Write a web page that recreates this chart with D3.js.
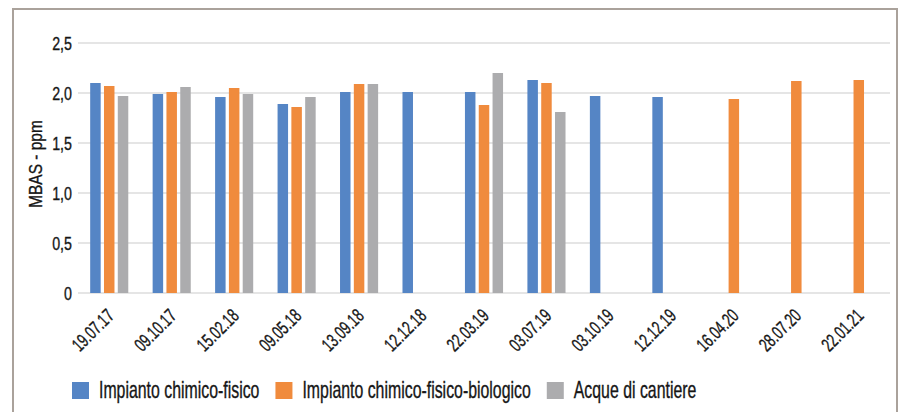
<!DOCTYPE html>
<html>
<head>
<meta charset="utf-8">
<script src="https://cdn.jsdelivr.net/npm/d3@7"></script>
<style>
  html, body { margin: 0; padding: 0; background: #fff; }
  svg { display: block; }
  text { font-family: "Liberation Sans", Arial, sans-serif; fill: #161616; stroke: #161616; stroke-width: 0.35px; }
</style>
</head>
<body>
<svg id="chart" width="900" height="412"></svg>
<script>
// ---- data ----
const categories = ["19.07.17","09.10.17","15.02.18","09.05.18","13.09.18","12.12.18","22.03.19","03.07.19","03.10.19","12.12.19","16.04.20","28.07.20","22.01.21"];
const seriesNames = ["Impianto chimico-fisico","Impianto chimico-fisico-biologico","Acque di cantiere"];
const chimicoFisico =         [2.10, 1.99, 1.96, 1.89, 2.01, 2.01, 2.01, 2.13, 1.97, 1.96, null, null, null];
const chimicoFisicoBiologico = [2.07, 2.01, 2.05, 1.86, 2.09, null, 1.88, 2.10, null, null, 1.94, 2.12, 2.13];
const acqueCantiere =          [1.97, 2.06, 1.99, 1.96, 2.09, null, 2.20, 1.81, null, null, null, null, null];
const yTicks = [0, 0.5, 1.0, 1.5, 2.0, 2.5];
const yTickLabels = ["0", "0,5", "1,0", "1,5", "2,0", "2,5"];
const yTitle = "MBAS - ppm";
const colors = ["#5585c5", "#f08b3d", "#acacae"];

const seriesValues = [chimicoFisico, chimicoFisicoBiologico, acqueCantiere];

(function () {
const svg = d3.select("#chart");

// frame
svg.append("rect")
  .attr("x", 13).attr("y", 9).attr("width", 884).attr("height", 420)
  .attr("fill", "none").attr("stroke", "#aaa29b").attr("stroke-width", 2);

const pLeft = 78, pRight = 890, pTop = 43, pBottom = 293;
const y = d3.scaleLinear().domain([0, 2.5]).range([pBottom, pTop]);
const x0 = d3.scaleBand().domain(categories).range([pLeft, pRight]).paddingInner(0).paddingOuter(0);
const groupW = 38.1;
const off = (x0.bandwidth() - groupW) / 2;
const x1 = d3.scaleBand().domain(seriesNames).range([off, off + groupW]).paddingInner(0.24).paddingOuter(0);

// gridlines
svg.append("g").selectAll("line").data(yTicks).join("line")
  .attr("x1", pLeft).attr("x2", pRight)
  .attr("y1", d => y(d)).attr("y2", d => y(d))
  .attr("stroke", "#dcdcdc").attr("stroke-width", 1.5);

// y tick labels (condensed)
const yl = svg.append("g").selectAll("g").data(yTicks).join("g")
  .attr("transform", d => `translate(72,${y(d)}) scale(0.75,1)`);
yl.append("text")
  .attr("text-anchor", "end").attr("dy", "0.36em")
  .attr("font-size", 19)
  .text((d, i) => yTickLabels[i]);

// y title
svg.append("g").attr("transform", "translate(42,164) rotate(-90) scale(0.86,1)")
  .append("text").attr("text-anchor", "middle").attr("font-size", 18).text(yTitle);

// bars
const barData = [];
categories.forEach((c, ci) => {
  seriesNames.forEach((s, si) => {
    const v = seriesValues[si][ci];
    if (v != null) barData.push({c, s, si, v});
  });
});
svg.append("g").selectAll("rect").data(barData).join("rect")
  .attr("x", d => x0(d.c) + x1(d.s))
  .attr("width", x1.bandwidth())
  .attr("y", d => y(d.v))
  .attr("height", d => y(0) - y(d.v))
  .attr("fill", d => colors[d.si]);

// x labels rotated
const xl = svg.append("g").selectAll("g").data(categories).join("g")
  .attr("transform", d => `translate(${x0(d) + x0.bandwidth() / 2 + 6},317) rotate(-45) scale(0.68,1)`);
xl.append("text").attr("text-anchor", "end").attr("font-size", 19).text(d => d);

// legend
const lg = svg.append("g");
let lx = 72;
seriesNames.forEach((s, i) => {
  lg.append("rect").attr("x", lx).attr("y", 382).attr("width", 17).attr("height", 17).attr("fill", colors[i]);
  const g = lg.append("g").attr("transform", `translate(${lx + 27},398) scale(0.69,1)`);
  const t = g.append("text").attr("font-size", 23).text(s);
  const w = t.node().getComputedTextLength() * 0.69;
  lx = lx + 27 + w + 16;
});
})();
</script>
</body>
</html>
